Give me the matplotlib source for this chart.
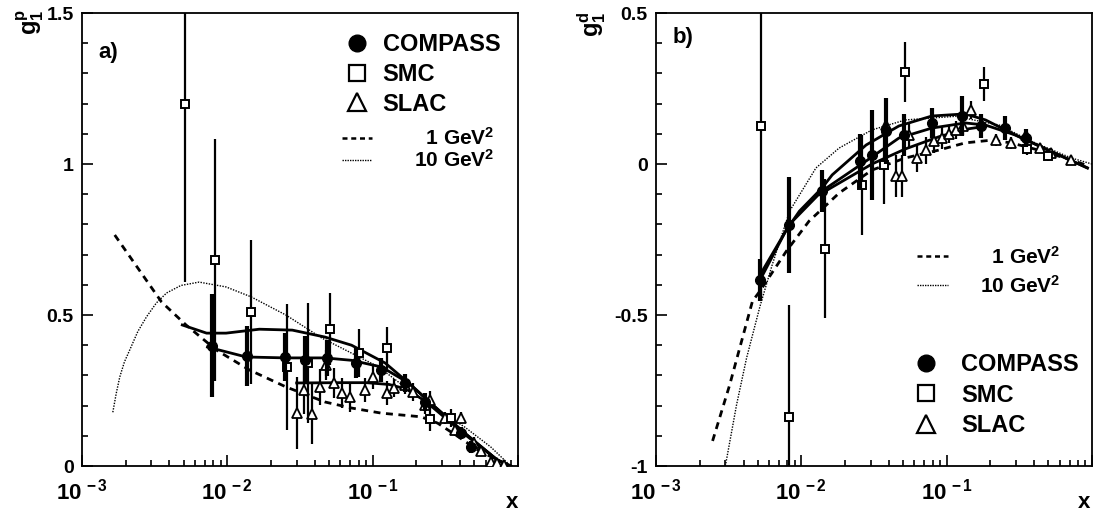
import matplotlib
matplotlib.use("Agg")
import math
import matplotlib.pyplot as plt
from matplotlib.lines import Line2D
from matplotlib.ticker import FixedLocator, MultipleLocator, LogLocator, NullFormatter, FuncFormatter

plt.rcParams['font.family'] = ['Liberation Sans', 'DejaVu Sans']
plt.rcParams['font.weight'] = 'bold'
plt.rcParams['mathtext.fontset'] = 'custom'
plt.rcParams['mathtext.rm'] = 'Liberation Sans:bold'
plt.rcParams['mathtext.bf'] = 'Liberation Sans:bold'
plt.rcParams['mathtext.it'] = 'Liberation Sans:bold'
plt.rcParams['axes.unicode_minus'] = False

# ---------------- panel a) data ----------------
compass_a_x = [0.0078, 0.0137, 0.0249, 0.0342, 0.0484, 0.0766, 0.115, 0.168, 0.231, 0.407, 0.476]
compass_a_y = [0.398, 0.364, 0.360, 0.351, 0.357, 0.341, 0.318, 0.275, 0.212, 0.109, 0.063]
compass_a_e = [0.17, 0.10, 0.08, 0.08, 0.06, 0.05, 0.04, 0.03, 0.03, 0.02, 0.02]

smc_a_x = [0.00515, 0.00824, 0.0145, 0.0258, 0.036, 0.0507, 0.08, 0.125, 0.249, 0.347]
smc_a_y = [1.199, 0.682, 0.51, 0.328, 0.341, 0.453, 0.374, 0.39, 0.156, 0.159]
smc_a_e = [0.59, 0.40, 0.24, 0.21, 0.20, 0.12, 0.08, 0.07, 0.04, 0.03]

slac_a_x = [0.0301, 0.0337, 0.0383, 0.0434, 0.0476, 0.054, 0.0615, 0.0695, 0.088, 0.1,
            0.125, 0.141, 0.168, 0.19, 0.23, 0.25, 0.316, 0.37, 0.407, 0.5, 0.56, 0.65, 0.72, 0.8]
slac_a_y = [0.176, 0.252, 0.172, 0.262, 0.334, 0.275, 0.242, 0.229, 0.252, 0.295,
            0.242, 0.258, 0.268, 0.245, 0.202, 0.219, 0.159, 0.119, 0.159, 0.076, 0.05, 0.013, 0.01, 0.003]
slac_a_e = [0.12, 0.08, 0.10, 0.06, 0.05, 0.05, 0.05, 0.05, 0.04, 0.04,
            0.04, 0.03, 0.03, 0.03, 0.03, 0.03, 0.02, 0.02, 0.02, 0.02, 0.01, 0.01, 0.01, 0.01]

q1_a_x = [0.00168, 0.00353, 0.0052, 0.0084, 0.0142, 0.0253, 0.047, 0.0716, 0.115, 0.215, 0.28, 0.388, 0.53, 0.72, 0.89]
q1_a_y = [0.765, 0.543, 0.467, 0.384, 0.318, 0.262, 0.212, 0.192, 0.175, 0.163, 0.142, 0.097, 0.053, 0.02, 0.0]

q10_a_x = [0.00163, 0.00172, 0.00182, 0.00196, 0.00213, 0.00242, 0.00278, 0.00325, 0.00382, 0.0048,
           0.0064, 0.0098, 0.0146, 0.0253, 0.0446, 0.056, 0.11, 0.177, 0.25, 0.43, 0.65, 0.89]
q10_a_y = [0.178, 0.24, 0.295, 0.345, 0.384, 0.445, 0.494, 0.54, 0.573, 0.598,
           0.609, 0.593, 0.56, 0.5, 0.424, 0.40, 0.328, 0.252, 0.202, 0.129, 0.063, 0.0]

up_a_x = [0.0049, 0.0072, 0.0098, 0.0166, 0.028, 0.047, 0.0716, 0.122, 0.177, 0.25, 0.43, 0.72, 0.89]
up_a_y = [0.467, 0.44, 0.44, 0.453, 0.45, 0.427, 0.40, 0.341, 0.275, 0.209, 0.109, 0.02, 0.0]

mid_a_x = [0.0073, 0.0135, 0.0253, 0.047, 0.0716, 0.115, 0.177, 0.25, 0.43, 0.72, 0.89]
mid_a_y = [0.394, 0.361, 0.358, 0.358, 0.350, 0.328, 0.275, 0.209, 0.109, 0.02, 0.0]

low_a_x = [0.03, 0.06, 0.09, 0.13, 0.17, 0.23, 0.43, 0.72, 0.89]
low_a_y = [0.275, 0.276, 0.276, 0.27, 0.255, 0.215, 0.105, 0.02, 0.0]

# ---------------- panel b) data ----------------
compass_b_x = [0.0052, 0.0082, 0.0139, 0.0253, 0.0306, 0.0385, 0.0505, 0.079, 0.127, 0.173, 0.253, 0.352]
compass_b_y = [-0.384, -0.202, -0.089, 0.01, 0.03, 0.11, 0.096, 0.136, 0.159, 0.126, 0.119, 0.086]
compass_b_e = [0.07, 0.16, 0.07, 0.09, 0.15, 0.11, 0.07, 0.05, 0.065, 0.04, 0.04, 0.03]

smc_b_x = [0.00524, 0.00828, 0.0146, 0.0262, 0.037, 0.0515, 0.182, 0.359, 0.5]
smc_b_y = [0.126, -0.838, -0.281, -0.069, -0.003, 0.305, 0.265, 0.05, 0.026]
smc_b_e = [0.58, 0.37, 0.23, 0.165, 0.13, 0.10, 0.055, 0.02, 0.015]

slac_b_x = [0.038, 0.0447, 0.0495, 0.055, 0.062, 0.0716, 0.082, 0.093, 0.103, 0.115, 0.13, 0.146,
            0.22, 0.278, 0.35, 0.44, 0.52, 0.72]
slac_b_y = [0.129, -0.04, -0.04, 0.096, 0.02, 0.046, 0.076, 0.086, 0.099, 0.113, 0.126, 0.179,
            0.079, 0.07, 0.096, 0.053, 0.036, 0.013]
slac_b_e = [0.08, 0.07, 0.07, 0.04, 0.045, 0.045, 0.04, 0.035, 0.03, 0.03, 0.03, 0.03,
            0.02, 0.02, 0.02, 0.015, 0.01, 0.01]

q1_b_x = [0.00245, 0.00321, 0.00461, 0.0052, 0.0079, 0.0113, 0.0182, 0.0306, 0.052, 0.088, 0.134,
          0.203, 0.278, 0.43, 0.65, 0.96]
q1_b_y = [-0.917, -0.732, -0.454, -0.42, -0.288, -0.189, -0.096, -0.02, 0.02, 0.046, 0.07,
          0.079, 0.07, 0.046, 0.02, -0.007]

q10_b_x = [0.003, 0.00358, 0.0042, 0.0052, 0.0063, 0.0083, 0.0126, 0.0182, 0.0306, 0.052, 0.115,
           0.23, 0.38, 0.72, 1.0]
q10_b_y = [-1.0, -0.798, -0.642, -0.47, -0.334, -0.156, -0.013, 0.053, 0.113, 0.146, 0.158,
           0.129, 0.076, 0.02, 0.0]

up_b_x = [0.0052, 0.0079, 0.0097, 0.0139, 0.0163, 0.0279, 0.0469, 0.079, 0.134, 0.185, 0.297, 0.5, 0.93]
up_b_y = [-0.367, -0.218, -0.156, -0.079, -0.036, 0.063, 0.126, 0.159, 0.166, 0.146, 0.096, 0.046, -0.013]

mid_b_x = [0.0052, 0.0082, 0.0139, 0.0279, 0.0469, 0.079, 0.134, 0.185, 0.297, 0.5, 0.93]
mid_b_y = [-0.384, -0.202, -0.089, 0.01, 0.086, 0.119, 0.136, 0.129, 0.096, 0.046, -0.013]

low_b_x = [0.0139, 0.0306, 0.052, 0.088, 0.134, 0.185]
low_b_y = [-0.096, 0.0, 0.05, 0.09, 0.115, 0.125]

a_yticks = [0, 0.5, 1, 1.5]
a_ylabels = ['0', '0.5', '1', '1.5']
b_yticks = [-1, -0.5, 0, 0.5]
b_ylabels = ['-1', '-0.5', '0', '0.5']

mlabels = ['COMPASS', 'SMC', 'SLAC']
llabels = ['\u20071 GeV$^2$', '10 GeV$^2$']

# ---------------- figure ----------------
fig = plt.figure(figsize=(10.93, 5.13), dpi=100)
ax1 = fig.add_axes([0.0750, 0.0916, 0.3989, 0.8830])
ax2 = fig.add_axes([0.6002, 0.0916, 0.3989, 0.8830])


def xfmt(v, pos):
    if abs(v - 1.0) < 1e-9:
        return ''
    e = int(round(math.log10(v)))
    return r'$10^{\,%d}$' % e


def style(ax, yticks, ylabels, ylim):
    ax.set_xscale('log')
    ax.set_xlim(1e-3, 1.0)
    ax.set_ylim(*ylim)
    ax.xaxis.set_major_locator(FixedLocator([1e-3, 1e-2, 1e-1, 1.0]))
    ax.xaxis.set_minor_locator(LogLocator(base=10, subs=range(2, 10)))
    ax.xaxis.set_major_formatter(FuncFormatter(xfmt))
    ax.xaxis.set_minor_formatter(NullFormatter())
    ax.yaxis.set_major_locator(FixedLocator(yticks))
    ax.set_yticklabels(ylabels)
    ax.yaxis.set_minor_locator(MultipleLocator(0.1))
    ax.tick_params(which='both', direction='in', top=False, right=False, width=1.2)
    ax.tick_params(which='major', length=8)
    ax.tick_params(which='minor', length=4)
    ax.tick_params(axis='x', which='major', labelsize=16, pad=9)
    ax.tick_params(axis='y', which='major', labelsize=14, pad=6)
    for s in ax.spines.values():
        s.set_linewidth(1.3)


def draw(ax, cx, cy, ce, sx, sy, se, lx, ly, le, curves):
    for (xx, yy, kind) in curves:
        if kind == 'solid':
            ax.plot(xx, yy, color='black', lw=2.0, zorder=2)
        elif kind == 'q1':
            ax.plot(xx, yy, color='black', lw=2.0, dashes=(2.5, 2.0), zorder=2)
        else:
            ax.plot(xx, yy, color='black', lw=1.0, dashes=(1.0, 1.0), zorder=2)
    ax.errorbar(lx, ly, yerr=le, fmt='^', ms=7, mfc='white', mec='black', mew=1.3,
                ecolor='black', elinewidth=1.6, capsize=0, zorder=4)
    ax.errorbar(sx, sy, yerr=se, fmt='s', ms=6, mfc='white', mec='black', mew=1.4,
                ecolor='black', elinewidth=1.6, capsize=0, zorder=5)
    ax.errorbar(cx, cy, yerr=ce, fmt='o', ms=7, mfc='black', mec='black',
                ecolor='black', elinewidth=3.0, capsize=0, zorder=6)


style(ax1, a_yticks, a_ylabels, (0, 1.5))
style(ax2, b_yticks, b_ylabels, (-1, 0.5))

draw(ax1, compass_a_x, compass_a_y, compass_a_e, smc_a_x, smc_a_y, smc_a_e,
     slac_a_x, slac_a_y, slac_a_e,
     [(q1_a_x, q1_a_y, 'q1'), (q10_a_x, q10_a_y, 'q10'), (up_a_x, up_a_y, 'solid'),
      (mid_a_x, mid_a_y, 'solid'), (low_a_x, low_a_y, 'solid')])
draw(ax2, compass_b_x, compass_b_y, compass_b_e, smc_b_x, smc_b_y, smc_b_e,
     slac_b_x, slac_b_y, slac_b_e,
     [(q1_b_x, q1_b_y, 'q1'), (q10_b_x, q10_b_y, 'q10'), (up_b_x, up_b_y, 'solid'),
      (mid_b_x, mid_b_y, 'solid'), (low_b_x, low_b_y, 'solid')])


def marker_handles():
    return [Line2D([], [], ls='none', marker='o', ms=12, mfc='black', mec='black'),
            Line2D([], [], ls='none', marker='s', ms=12, mfc='white', mec='black', mew=1.6),
            Line2D([], [], ls='none', marker='^', ms=13, mfc='white', mec='black', mew=1.6)]


def line_handles():
    return [Line2D([], [], color='black', lw=1.8, dashes=(2.0, 1.5)),
            Line2D([], [], color='black', lw=1.0, dashes=(1.0, 0.8))]


legA1 = ax1.legend(marker_handles(), mlabels, loc='upper left', bbox_to_anchor=(0.603, 0.955),
                   frameon=False, borderpad=0, borderaxespad=0, handlelength=1.0,
                   handletextpad=0.6, labelspacing=0.28, prop={'size': 17, 'weight': 'bold'})
ax1.add_artist(legA1)
ax1.legend(line_handles(), llabels, loc='upper left', bbox_to_anchor=(0.596, 0.748),
           frameon=False, borderpad=0, borderaxespad=0, handlelength=1.45,
           handletextpad=2.0, labelspacing=0.0, prop={'size': 15, 'weight': 'bold'})

legB1 = ax2.legend(line_handles(), llabels, loc='upper left', bbox_to_anchor=(0.599, 0.486),
                   frameon=False, borderpad=0, borderaxespad=0, handlelength=1.5,
                   handletextpad=1.5, labelspacing=0.33, prop={'size': 15, 'weight': 'bold'})
ax2.add_artist(legB1)
ax2.legend(marker_handles(), mlabels, loc='upper left', bbox_to_anchor=(0.592, 0.25),
           frameon=False, borderpad=0, borderaxespad=0, handlelength=1.0,
           handletextpad=1.0, labelspacing=0.33, prop={'size': 17, 'weight': 'bold'})

ax1.text(0.037, 0.912, 'a)', transform=ax1.transAxes, fontsize=16, fontweight='bold',
         ha='left', va='center')
ax2.text(0.039, 0.947, 'b)', transform=ax2.transAxes, fontsize=16, fontweight='bold',
         ha='left', va='center')

fig.text(30 / 1093, 1 - 22 / 513, r'$\mathrm{g_1^p}$', rotation=90, ha='center', va='center', fontsize=17)
fig.text(592 / 1093, 1 - 24 / 513, r'$\mathrm{g_1^d}$', rotation=90, ha='center', va='center', fontsize=17)
fig.text(518 / 1093, 1 - 502 / 513, 'x', ha='right', va='center', fontsize=16, fontweight='bold')
fig.text(1090 / 1093, 1 - 502 / 513, 'x', ha='right', va='center', fontsize=16, fontweight='bold')

fig.savefig('out.png', dpi=100)
